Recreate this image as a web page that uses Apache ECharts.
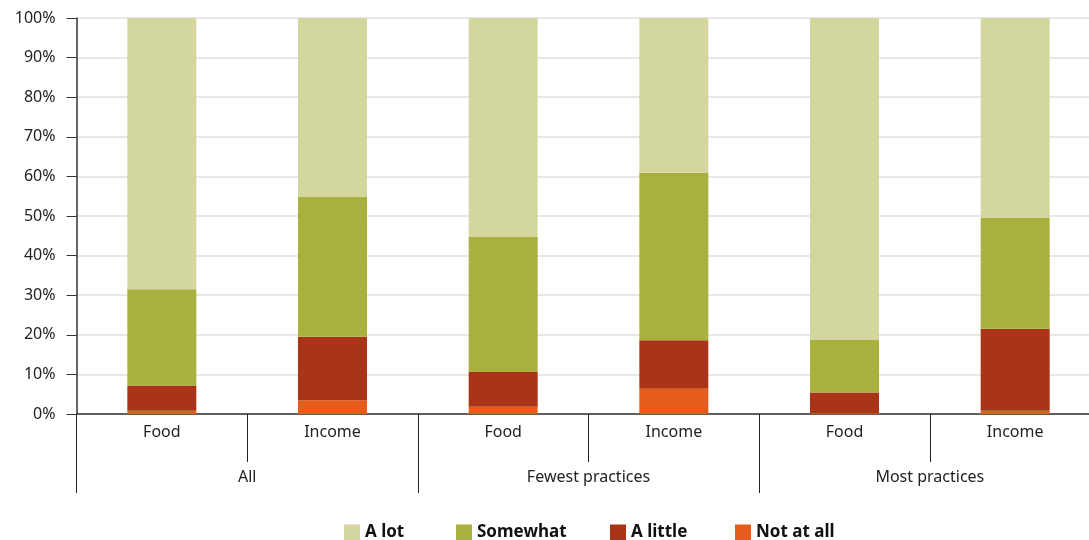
<!DOCTYPE html>
<html><head><meta charset="utf-8">
<script src="https://cdn.jsdelivr.net/npm/echarts@6/dist/echarts.min.js"></script>
<style>html,body{margin:0;padding:0;background:#fff}#c{width:1089px;height:540px}</style>
</head><body><div id="c"></div>
<script>
const categories = ['Food','Income','Food','Income','Food','Income'];
const groups = ['All','Fewest practices','Most practices'];
const seriesNames = ['A lot','Somewhat','A little','Not at all'];
const notAtAll = [0.8, 3.5, 1.8, 6.4, 0.2, 0.8];
const aLittle = [6.4, 16.0, 8.8, 12.2, 5.2, 20.7];
const somewhat = [24.3, 35.3, 34.1, 42.3, 13.3, 28.0];
const aLot = [68.5, 45.2, 55.3, 39.1, 81.3, 50.5];
const yTicks = [0,10,20,30,40,50,60,70,80,90,100];

const colors = {'A lot':'#d3d79f','Somewhat':'#a8b03e','A little':'#aa3418','Not at all':'#e55c1b'};
const legendLefts = [339, 451, 605, 730];
const font = 'Noto Sans';
const chart = echarts.init(document.getElementById('c'));
function mk(name, data){
  return {name, type:'bar', stack:'t', data, barWidth:69, xAxisIndex:0,
    itemStyle:{color:colors[name]}, emphasis:{disabled:true}};
}
const legends = seriesNames.map((n,i)=>({data:[n], left:legendLefts[i], top:519, itemWidth:16, itemHeight:16,
    icon:'rect', itemGap:8, selectedMode:false,
    textStyle:{fontFamily:font, fontSize:17, fontWeight:'bold', color:'#111', padding:[0,0,0,0]}}));
chart.setOption({
  animation:false,
  grid:{left:76.5, top:18, width:1024, height:396, containLabel:false, outerBoundsMode:'none'},
  legend:legends,
  xAxis:[
    {type:'category', data:categories, position:'bottom',
     axisLine:{show:true, lineStyle:{color:'#333', width:1.5}},
     axisTick:{show:true, interval:0, length:48, lineStyle:{color:'#222', width:1}},
     axisLabel:{show:true, interval:0, margin:10, fontFamily:font, fontSize:16, color:'#222'}},
    {type:'category', data:groups, position:'bottom', offset:0,
     axisLine:{show:false},
     axisTick:{show:true, interval:0, length:79, lineStyle:{color:'#222', width:1}},
     axisLabel:{show:true, interval:0, margin:55, fontFamily:font, fontSize:16, color:'#222'}}
  ],
  yAxis:{type:'value', min:yTicks[0], max:yTicks[yTicks.length-1], interval:10,
    axisLine:{show:true, lineStyle:{color:'#333', width:1.5}},
    axisTick:{show:true, length:10, lineStyle:{color:'#333'}},
    axisLabel:{formatter:'{value}%', margin:21, fontFamily:font, fontSize:16, color:'#222'},
    splitLine:{lineStyle:{color:'#e0e0e0', width:1.5}}},
  series:[mk('Not at all', notAtAll), mk('A little', aLittle), mk('Somewhat', somewhat), mk('A lot', aLot)]
});
</script></body></html>
